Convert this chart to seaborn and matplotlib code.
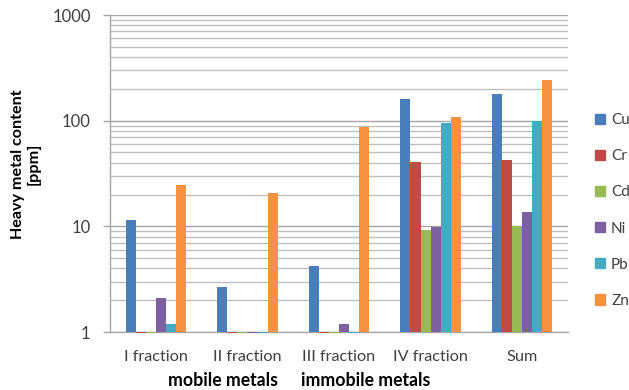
import matplotlib
matplotlib.use("Agg")
import matplotlib.pyplot as plt
from matplotlib.ticker import LogLocator, NullFormatter, FixedLocator, FixedFormatter
import seaborn as sns
import pandas as pd

fractions = ["I fraction", "II fraction", "III fraction", "IV fraction", "Sum"]
metals = ["Cu", "Cr", "Cd", "Ni", "Pb", "Zn"]
cu = [11.6, 2.66, 4.26, 160, 177]
cr = [0.98, 0.98, 0.985, 40.8, 42.2]
cd = [0.98, 0.98, 0.97, 9.3, 10.0]
ni = [2.12, 0.98, 1.2, 9.9, 13.6]
pb = [1.2, 0.98, 0.98, 95.7, 98.5]
zn = [24.4, 20.6, 88, 108, 242]
colors = ["#4A7EBB", "#BE4B48", "#98B954", "#7D60A0", "#46AAC5", "#F69240"]

series = dict(zip(metals, [cu, cr, cd, ni, pb, zn]))
rows = [(f, m, v) for m in metals for f, v in zip(fractions, series[m])]
df = pd.DataFrame(rows, columns=["fraction", "metal", "ppm"])

sns.set_theme(style="white")
plt.rcParams["font.family"] = ["Lato", "DejaVu Sans"]

fig = plt.figure(figsize=(6.29, 3.90), dpi=100)
ax = fig.add_axes([0.175, 0.1487, 0.728, 0.8128])

sns.barplot(data=df, x="fraction", y="ppm", hue="metal", order=fractions,
            hue_order=metals, palette=colors, width=0.66, gap=0,
            errorbar=None, saturation=1, ax=ax, legend=False,
            linewidth=0, edgecolor="none")
ax.set_yscale("log")

# Bars rise (or drop) from the axis floor at 1 ppm
for p in ax.patches:
    h = p.get_y() + p.get_height()
    p.set_y(1.0)
    p.set_height(h - 1.0)
    p.set_clip_on(False)
    p.set_zorder(3)

ax.set_ylim(1, 1000)
ax.set_xlim(-0.5, len(fractions) - 0.5)
ax.yaxis.set_major_locator(FixedLocator([1, 10, 100, 1000]))
ax.yaxis.set_major_formatter(FixedFormatter(["1", "10", "100", "1000"]))
ax.yaxis.set_minor_locator(LogLocator(base=10, subs=range(2, 10)))
ax.yaxis.set_minor_formatter(NullFormatter())
ax.grid(True, which="major", axis="y", color="#A6A6A6", linewidth=1.0, zorder=0)
ax.grid(True, which="minor", axis="y", color="#BFBFBF", linewidth=1.0, zorder=0)
ax.set_axisbelow(True)

for s in ["top", "right"]:
    ax.spines[s].set_visible(False)
for s in ["left", "bottom"]:
    ax.spines[s].set_color("#A6A6A6")
    ax.spines[s].set_linewidth(1.0)

ax.tick_params(axis="y", which="major", length=5, width=1, color="#A6A6A6",
               pad=9, labelsize=12, labelcolor="#404040", left=True)
ax.tick_params(axis="y", which="minor", length=0)
ax.tick_params(axis="x", length=0, pad=13, labelsize=11.7, labelcolor="#404040")
ax.set_xlabel("")
ax.set_ylabel("")

fig.text(26 / 629, 1 - 164 / 390, "Heavy metal content\n[ppm]", rotation=90,
         ha="center", va="center", multialignment="center",
         fontsize=11.6, fontweight="bold", color="black", linespacing=1.15)
fig.text(223 / 629, 1 - 381 / 390, "mobile metals", ha="center", va="center",
         fontsize=12.7, fontweight="bold", color="black")
fig.text(366 / 629, 1 - 381 / 390, "immobile metals", ha="center", va="center",
         fontsize=12.7, fontweight="bold", color="black")

handles = [plt.Rectangle((0, 0), 1, 1, color=c) for c in colors]
fig.legend(handles, metals, loc="center left",
           bbox_to_anchor=(595 / 629, 1 - 210.5 / 390), frameon=False,
           fontsize=11, labelcolor="#404040", handlelength=0.65,
           handleheight=0.65, handletextpad=0.4, labelspacing=1.45,
           borderaxespad=0, borderpad=0)

fig.savefig("out.png", dpi=100)
